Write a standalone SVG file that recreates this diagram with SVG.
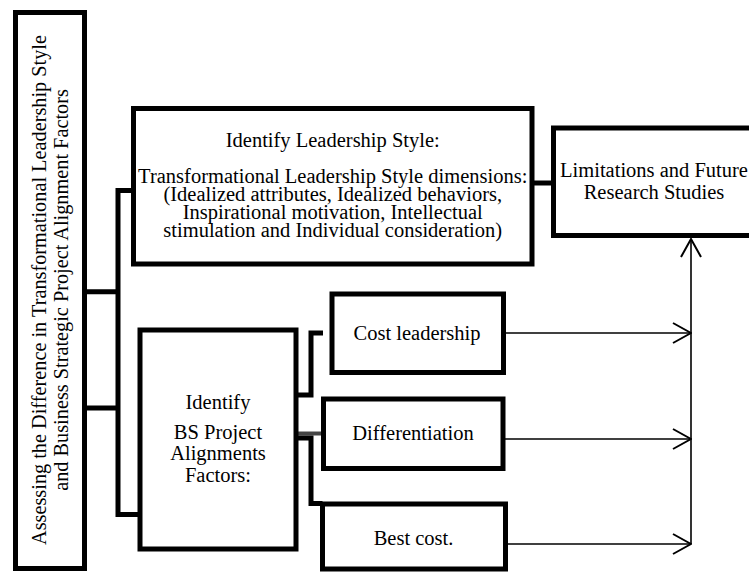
<svg xmlns="http://www.w3.org/2000/svg" width="749" height="572" viewBox="0 0 749 572">
<style>
.box{fill:#fff;stroke:#000;stroke-width:5}
.t{font-family:"Liberation Serif","Times New Roman",serif;font-size:20.5px;fill:#000;text-anchor:middle}
.bar{fill:none;stroke:#000;stroke-width:5}
.arr{fill:none;stroke:#000;stroke-width:1.6}
</style>
<defs>
<marker id="ah" viewBox="0 0 20 22" refX="19" refY="11" markerWidth="20" markerHeight="22" markerUnits="userSpaceOnUse" orient="auto">
<path d="M1,1 L19,11 L1,21" fill="none" stroke="#000" stroke-width="2"/>
</marker>
</defs>
<rect width="749" height="572" fill="#fff"/>
<g id="connectors">
<path class="bar" d="M84.5,291.7 H118"/>
<path class="bar" d="M84.5,408 H118"/>
<path class="bar" d="M132,190.5 H118 V514.5 H138"/>
<path class="bar" d="M532,183 H553.5"/>
<path class="bar" d="M296,395 H311 V333 H323"/>
<path class="bar" d="M296,433.5 H323.5" style="stroke:#444;stroke-width:4"/>
<path class="bar" d="M296,438 H311 V503.5 H322.5"/>
<path class="arr" d="M503.5,333 H691" marker-end="url(#ah)"/>
<path class="arr" d="M503,439 H691" marker-end="url(#ah)"/>
<path class="arr" d="M505.5,544 H691" marker-end="url(#ah)"/>
<path class="arr" d="M691,544 V239" marker-end="url(#ah)"/>
</g>
<g id="main">
<rect class="box" x="15.5" y="12.5" width="69" height="556"/>
<text class="t" transform="translate(46,290) rotate(-90)" style="font-size:20.3px">Assessing the Difference in Transformational Leadership Style</text>
<text class="t" transform="translate(68.3,290) rotate(-90)" style="font-size:20.3px">and Business Strategic Project Alignment Factors</text>
</g>
<g id="leadership">
<rect class="box" x="133.5" y="108.5" width="398.5" height="155.5"/>
<text class="t" x="332.75" y="147">Identify Leadership Style:</text>
<text class="t" x="332.75" y="183">Transformational Leadership Style dimensions:</text>
<text class="t" x="332.75" y="201">(Idealized attributes, Idealized behaviors,</text>
<text class="t" x="332.75" y="219">Inspirational motivation, Intellectual</text>
<text class="t" x="332.75" y="237">stimulation and Individual consideration)</text>
</g>
<g id="limitations">
<rect class="box" x="553.5" y="128" width="202" height="107.5"/>
<text class="t" x="654" y="177">Limitations and Future</text>
<text class="t" x="654" y="199">Research Studies</text>
</g>
<g id="bs">
<rect class="box" x="140" y="330" width="156" height="219"/>
<text class="t" x="218" y="409">Identify</text>
<text class="t" x="218" y="439">BS Project</text>
<text class="t" x="218" y="460">Alignments</text>
<text class="t" x="218" y="481.5">Factors:</text>
</g>
<g id="cost">
<rect class="box" x="332" y="294" width="171.5" height="78.5"/>
<text class="t" x="417" y="340">Cost leadership</text>
</g>
<g id="diff">
<rect class="box" x="323.5" y="399" width="179.5" height="69.5"/>
<text class="t" x="413" y="440">Differentiation</text>
</g>
<g id="best">
<rect class="box" x="322.5" y="504" width="183" height="65"/>
<text class="t" x="413.5" y="545">Best cost.</text>
</g>
</svg>
